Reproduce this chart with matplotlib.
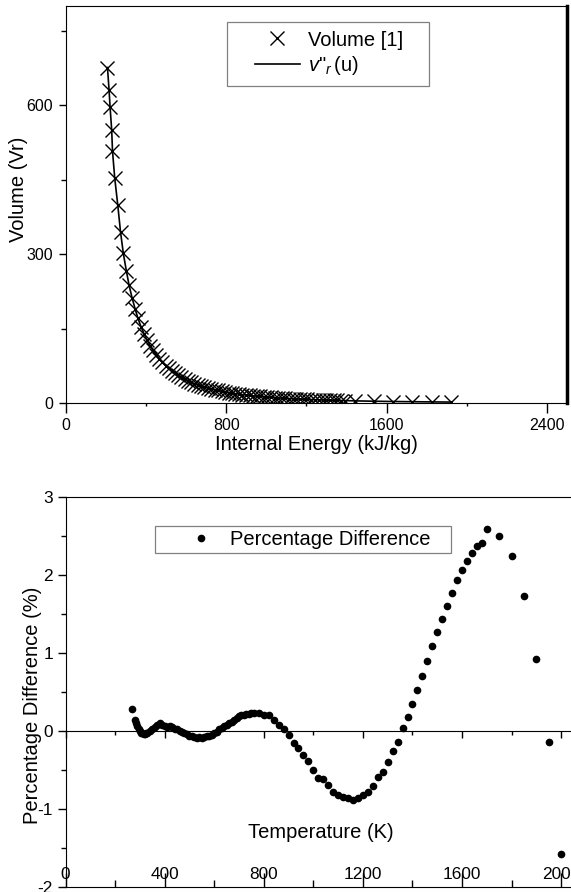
import numpy as np
import matplotlib
matplotlib.use('Agg')
import matplotlib.pyplot as plt
from matplotlib.lines import Line2D
from matplotlib.legend_handler import HandlerLine2D
from matplotlib.ticker import MultipleLocator, NullFormatter

plt.rcParams['font.family'] = ['Liberation Sans', 'DejaVu Sans']
plt.rcParams['mathtext.fontset'] = 'custom'
plt.rcParams['mathtext.rm'] = 'Liberation Sans'
plt.rcParams['mathtext.it'] = 'Liberation Sans:italic'
plt.rcParams['axes.unicode_minus'] = False

# top panel: relative volume vs internal energy
u_vol = [207, 215, 220, 228, 232, 243, 258, 272,
         286, 301, 315, 330, 345, 359, 374, 389, 404, 420,
         435, 450, 466, 481, 497, 512, 528, 544, 560, 576,
         592, 609, 625, 641, 658, 675, 691, 708, 725, 742,
         759, 776, 793, 811, 828, 845, 863, 880, 898, 916,
         933, 951, 969, 987, 1005, 1023, 1041, 1059, 1077, 1095,
         1114, 1132, 1150, 1168, 1187, 1205, 1224, 1242, 1261, 1280,
         1298, 1317, 1336, 1354, 1373, 1393,
         1440, 1535, 1631, 1727, 1824, 1921]
vr_vol = [676, 630, 596, 550, 508, 454, 400, 345,
          301.6, 266.6, 236.8, 211.4, 189.5, 170.6, 154.1, 139.7, 127.0, 115.7,
          105.8, 96.9, 89.0, 81.9, 75.5, 69.8, 64.5, 59.8, 55.5, 51.6,
          48.1, 44.8, 41.9, 39.1, 36.6, 34.3, 32.2, 30.2, 28.4, 26.7,
          25.2, 23.7, 22.4, 21.1, 20.0, 18.9, 17.9, 16.9, 16.1, 15.2,
          14.5, 13.7, 13.1, 12.4, 11.8, 11.3, 10.7, 10.2, 9.8, 9.3,
          8.9, 8.5, 8.2, 7.8, 7.5, 7.2, 6.9, 6.6, 6.3, 6.0,
          5.8, 5.6, 5.4, 5.1, 4.9, 4.8,
          4.3, 3.6, 3.0, 2.6, 2.2, 1.9]

# bottom panel: percentage difference vs temperature
temp = [270, 280, 285, 290, 295, 300, 305, 310, 315, 320, 325, 330,
        340, 350, 360, 370, 380, 390, 400, 410, 420, 430, 440, 450,
        460, 470, 480, 490, 500, 510, 520, 530, 540, 550, 560, 570,
        580, 590, 600, 610, 620, 630, 640, 650, 660, 670, 680, 690,
        700, 710, 720, 730, 740, 750, 760,
        780, 800, 820, 840, 860, 880, 900, 920, 940, 960, 980, 1000,
        1020, 1040, 1060, 1080, 1100, 1120, 1140, 1160, 1180, 1200,
        1220, 1240, 1260, 1280, 1300, 1320, 1340, 1360, 1380, 1400,
        1420, 1440, 1460, 1480, 1500, 1520, 1540, 1560, 1580, 1600,
        1620, 1640, 1660, 1680, 1700,
        1750, 1800, 1850, 1900, 1950, 2000]
pct_diff = [0.28, 0.14, 0.10, 0.06, 0.03, 0.00, -0.02, -0.03, -0.04, -0.04, -0.03, -0.02,
            0.00, 0.03, 0.05, 0.08, 0.10, 0.08, 0.06, 0.05, 0.06, 0.05, 0.03, 0.02,
            0.00, -0.01, -0.03, -0.04, -0.06, -0.07, -0.08, -0.09, -0.08, -0.09, -0.08, -0.07,
            -0.07, -0.05, -0.03, -0.01, 0.02, 0.04, 0.06, 0.08, 0.10, 0.12, 0.14, 0.17,
            0.19, 0.20, 0.21, 0.22, 0.22, 0.23, 0.23,
            0.23, 0.21, 0.20, 0.14, 0.08, 0.02, -0.05, -0.15, -0.22, -0.31, -0.38, -0.50,
            -0.60, -0.61, -0.69, -0.78, -0.82, -0.85, -0.86, -0.88, -0.86, -0.82,
            -0.78, -0.71, -0.59, -0.53, -0.40, -0.26, -0.14, 0.04, 0.18, 0.35,
            0.53, 0.71, 0.90, 1.09, 1.27, 1.44, 1.60, 1.77, 1.93, 2.06,
            2.18, 2.28, 2.37, 2.41, 2.585,
            2.50, 2.24, 1.73, 0.92, -0.14, -1.58]


class RightHandle(HandlerLine2D):
    # draws the legend handle only in the right part of the handle box
    def __init__(self, keep, **kw):
        super().__init__(**kw)
        self.keep = keep

    def create_artists(self, legend, orig_handle, xdescent, ydescent,
                       width, height, fontsize, trans):
        shift = width - self.keep * fontsize
        return super().create_artists(legend, orig_handle, xdescent - shift, ydescent,
                                      width - shift, height, fontsize, trans)


W, H = 571, 892
fs_lab = 14.5
fig = plt.figure(figsize=(W / 100, H / 100), dpi=100)

# ---- top panel
ax1 = fig.add_axes([66 / W, 1 - 403 / H, 501 / W, 397 / H])
ax1.plot(u_vol, vr_vol, 'x', color='k', ms=10, mew=1.0, ls='none', label='Volume [1]   ')
ax1.plot(u_vol, vr_vol, '-', color='k', lw=1.2, label=r'$v$"$_r\,$(u)')
ax1.set_xlim(0, 2500)
ax1.set_ylim(0, 800)
ax1.xaxis.set_major_locator(MultipleLocator(800))
ax1.xaxis.set_minor_locator(MultipleLocator(400))
ax1.yaxis.set_major_locator(MultipleLocator(300))
ax1.yaxis.set_minor_locator(MultipleLocator(150))
ax1.tick_params(which='both', top=False, right=False, direction='out', labelsize=11.5)
ax1.tick_params(axis='x', which='major', length=7, width=1, pad=3.5)
ax1.tick_params(axis='x', which='minor', length=2.5, width=1)
ax1.tick_params(axis='y', which='major', length=5, width=1, pad=4.5)
ax1.tick_params(axis='y', which='minor', length=3.5, width=1)
ax1.spines['right'].set_linewidth(2.5)
ax1.set_xlabel('Internal Energy (kJ/kg)', fontsize=fs_lab, labelpad=2)
ax1.set_ylabel('Volume (Vr)', fontsize=fs_lab)
ax1.yaxis.set_label_coords(-0.076, 0.537)
leg1 = ax1.legend(loc='upper left', bbox_to_anchor=(0.321, 0.960), borderaxespad=0,
                  fancybox=False, edgecolor='#808080', framealpha=1, fontsize=fs_lab,
                  borderpad=0.43, handlelength=3.2, handletextpad=0.4, labelspacing=0.22,
                  handler_map={Line2D: RightHandle(2.24)})
leg1.get_frame().set_linewidth(0.9)

# ---- bottom panel
ax2 = fig.add_axes([65.5 / W, 1 - 887 / H, 515.5 / W, 390 / H])
ax2.plot(temp, pct_diff, 'o', color='k', ms=4.5, ls='none', label='Percentage Difference   ')
ax2.set_xlim(0, 2080)
ax2.set_ylim(-2, 3)
ax2.spines['right'].set_visible(False)
ax2.xaxis.set_major_locator(MultipleLocator(400))
ax2.xaxis.set_minor_locator(MultipleLocator(200))
ax2.yaxis.set_major_locator(MultipleLocator(1))
ax2.yaxis.set_minor_locator(MultipleLocator(0.5))
ax2.tick_params(which='both', top=False, right=False, labelsize=12.4)
ax2.tick_params(axis='x', which='major', direction='in', length=10, width=1, pad=-14.5)
ax2.tick_params(axis='x', which='minor', direction='in', length=5, width=1)
ax2.tick_params(axis='y', which='major', direction='out', length=6, width=1, pad=3)
ax2.tick_params(axis='y', which='minor', direction='out', length=3.5, width=1)

# zero line with its own ticks
sec = ax2.secondary_xaxis(0.4)
sec.xaxis.set_major_locator(MultipleLocator(400))
sec.xaxis.set_minor_locator(MultipleLocator(200))
sec.xaxis.set_major_formatter(NullFormatter())
sec.tick_params(which='major', direction='out', length=5, width=1)
sec.tick_params(which='minor', direction='out', length=3, width=1)

ax2.set_xlabel('Temperature (K)', fontsize=fs_lab)
ax2.xaxis.set_label_coords(0.496, 0.165)
ax2.set_ylabel('Percentage Difference (%)', fontsize=fs_lab)
ax2.yaxis.set_label_coords(-0.046, 0.467)
leg2 = ax2.legend(loc='upper left', bbox_to_anchor=(0.174, 0.926), borderaxespad=0,
                  fancybox=False, edgecolor='#808080', framealpha=1, fontsize=fs_lab,
                  borderpad=0.2, handlelength=3.15, handletextpad=0.35,
                  handler_map={Line2D: RightHandle(2.19)})
leg2.get_frame().set_linewidth(0.9)

fig.savefig('out.png', dpi=100)
